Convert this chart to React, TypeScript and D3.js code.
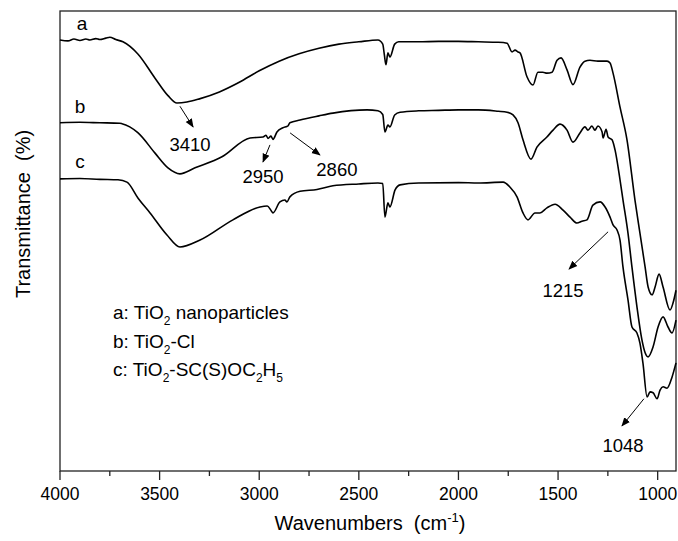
import React, { useEffect, useRef } from 'react';
import * as d3 from 'd3';

// [wavenumber (cm-1), transmittance (a.u.)]
const curveA: [number, number][] = [
  [4000, 93.7], [3960, 93.5], [3930, 93.9], [3900, 93.6], [3870, 93.9], [3850, 93.7], [3820, 94.0], [3800, 93.8],
  [3770, 94.1], [3750, 94.3], [3720, 93.8], [3684, 93.3], [3608, 90.6], [3523, 85.4], [3458, 81.6], [3413, 80.0],
  [3363, 80.2], [3300, 80.9], [3200, 82.4], [3100, 84.5], [3000, 87.0], [2900, 89.1], [2800, 90.7], [2700, 91.9],
  [2600, 92.8], [2500, 93.3], [2404, 93.7], [2380, 92.8], [2372, 90.5], [2364, 88.3], [2354, 90.9],
  [2344, 90.0], [2320, 92.8], [2300, 93.3], [2200, 93.3], [2100, 93.4], [2000, 93.4], [1900, 93.3], [1800, 93.2],
  [1756, 93.0], [1731, 91.1], [1716, 91.5], [1701, 91.1], [1691, 90.9], [1656, 85.7], [1626, 83.9], [1601, 86.7],
  [1576, 86.7], [1556, 86.5], [1530, 86.7], [1505, 89.3], [1485, 89.8], [1455, 87.2], [1425, 84.0], [1390, 87.8],
  [1365, 89.1], [1340, 89.3], [1300, 89.1], [1254, 89.1], [1239, 88.7], [1224, 86.5], [1189, 79.1], [1154, 72.0],
  [1114, 58.9], [1089, 51.7], [1063, 44.3], [1048, 40.0], [1028, 38.3], [1013, 40.0], [993, 42.8], [973, 40.0],
  [938, 35.0], [923, 36.5], [908, 39.3],
];

const curveB: [number, number][] = [
  [4000, 75.7], [3900, 75.8], [3800, 75.7], [3700, 75.6], [3689, 75.5], [3650, 74.8], [3608, 73.5], [3523, 69.1],
  [3458, 65.9], [3398, 64.6], [3322, 65.9], [3187, 68.3], [3046, 72.4], [2981, 72.6], [2966, 73.0], [2956, 72.3],
  [2941, 72.8], [2931, 72.1], [2911, 73.7], [2881, 74.6], [2861, 74.9], [2856, 75.0], [2846, 75.7], [2795, 76.3],
  [2700, 77.2], [2630, 77.8], [2459, 78.5], [2404, 78.3], [2380, 77.5], [2369, 73.7], [2354, 75.2], [2344, 74.8],
  [2320, 77.4], [2293, 78.0], [2200, 78.3], [2100, 78.4], [2000, 78.5], [1900, 78.5], [1800, 78.2], [1756, 78.0],
  [1726, 77.4], [1701, 75.7], [1676, 72.0], [1636, 67.8], [1606, 70.4], [1556, 72.6], [1525, 74.1], [1490, 75.4],
  [1455, 74.1], [1425, 71.5], [1390, 73.5], [1365, 74.8], [1350, 74.1], [1330, 75.0], [1315, 74.1], [1300, 75.0],
  [1279, 73.7], [1274, 72.4], [1259, 74.3], [1249, 72.6], [1229, 72.0], [1214, 69.8], [1189, 63.3], [1174, 58.9],
  [1149, 51.7], [1129, 44.3], [1104, 35.7], [1079, 28.5], [1063, 25.7], [1048, 24.8], [1023, 27.0], [998, 31.3],
  [973, 33.5], [948, 31.3], [928, 30.0], [908, 32.8],
];

const curveC: [number, number][] = [
  [4000, 63.5], [3900, 63.6], [3800, 63.4], [3709, 63.3], [3664, 62.8], [3608, 59.3], [3548, 56.1], [3463, 51.3],
  [3398, 48.7], [3297, 50.2], [3132, 54.6], [2996, 57.4], [2960, 57.6], [2940, 56.6], [2931, 56.1], [2896, 58.5],
  [2871, 58.9], [2861, 58.5], [2846, 59.6], [2795, 60.8], [2710, 61.2], [2630, 62.0], [2500, 62.4], [2404, 62.6],
  [2380, 62.5], [2369, 55.2], [2354, 58.3], [2344, 57.4], [2318, 61.1], [2293, 62.2], [2200, 62.6], [2000, 62.7],
  [1900, 62.6], [1776, 62.8], [1741, 61.7], [1706, 59.6], [1676, 56.1], [1651, 54.6], [1616, 56.1], [1591, 56.1],
  [1556, 57.2], [1515, 58.0], [1475, 56.7], [1440, 55.2], [1405, 53.9], [1380, 54.3], [1355, 54.6], [1325, 57.8],
  [1289, 58.5], [1264, 57.4], [1239, 55.2], [1224, 53.5], [1204, 52.4], [1189, 50.2], [1174, 44.3], [1149, 37.2],
  [1129, 31.3], [1104, 30.0], [1089, 27.8], [1074, 23.5], [1053, 16.1], [1038, 17.2], [1023, 17.0], [1003, 15.7],
  [988, 17.6], [973, 18.3], [953, 18.0], [928, 20.4], [908, 23.5],
];

const xTicks = [4000, 3500, 3000, 2500, 2000, 1500, 1000];
const xMinorTicks = [3750, 3250, 2750, 2250, 1750, 1250];

// curve letters: [text, wavenumber, value]
const curveLabels: [string, number, number][] = [
  ['a', 3890, 95.9],
  ['b', 3900, 77.8],
  ['c', 3900, 65.9],
];

// peak marks: label, label position, arrow from, arrow to
const peakMarks: { label: string; at: [number, number]; from: [number, number]; to: [number, number] }[] = [
  { label: '3410', at: [3347, 69.6], from: [3398, 79.3], to: [3332, 74.8] },
  { label: '2950', at: [2981, 62.6], from: [2946, 70.9], to: [2981, 67.2] },
  { label: '2860', at: [2610, 64.1], from: [2845, 73.5], to: [2695, 68.7] },
  { label: '1215', at: [1475, 37.8], from: [1249, 52.0], to: [1445, 43.9] },
  { label: '1048', at: [1174, 4.1], from: [1069, 15.7], to: [1179, 9.8] },
];

const legendRows = [
  { prefix: 'a: TiO', parts: [['2', 'sub'], [' nanoparticles', '']] },
  { prefix: 'b: TiO', parts: [['2', 'sub'], ['-Cl', '']] },
  { prefix: 'c: TiO', parts: [['2', 'sub'], ['-SC(S)OC', ''], ['2', 'sub'], ['H', ''], ['5', 'sub']] },
];

const W = 678;
const H = 541;
const margin = { left: 60, right: 2, top: 11, bottom: 70 };
const FONT = '"Liberation Sans", Arial, sans-serif';

export default function App() {
  const ref = useRef<SVGSVGElement>(null);

  useEffect(() => {
    const svg = d3.select(ref.current);
    svg.selectAll('*').remove();

    const x0 = margin.left;
    const x1 = W - margin.right;
    const y0 = H - margin.bottom;
    const y1 = margin.top;

    const x = d3.scaleLinear().domain([4000, 908]).range([x0, x1]);
    const y = d3.scaleLinear().domain([0, 100]).range([y0, y1]);

    svg.append('defs').append('marker')
      .attr('id', 'arr')
      .attr('viewBox', '0 0 10 10')
      .attr('refX', 9).attr('refY', 5)
      .attr('markerWidth', 9).attr('markerHeight', 9)
      .attr('markerUnits', 'userSpaceOnUse')
      .attr('orient', 'auto')
      .append('path').attr('d', 'M0,1 L10,5 L0,9 Z').attr('fill', '#000');

    // frame
    svg.append('rect')
      .attr('x', x0).attr('y', y1)
      .attr('width', x1 - x0).attr('height', y0 - y1)
      .attr('fill', 'none').attr('stroke', '#222').attr('stroke-width', 1.3);

    // ticks
    const g = svg.append('g');
    g.selectAll('.maj').data(xTicks).join('line')
      .attr('x1', d => x(d)).attr('x2', d => x(d))
      .attr('y1', y0).attr('y2', y0 + 9)
      .attr('stroke', '#222').attr('stroke-width', 1.3);
    g.selectAll('.min').data(xMinorTicks).join('line')
      .attr('x1', d => x(d)).attr('x2', d => x(d))
      .attr('y1', y0).attr('y2', y0 + 5)
      .attr('stroke', '#222').attr('stroke-width', 1.3);
    g.selectAll('text').data(xTicks).join('text')
      .attr('x', d => x(d)).attr('y', y0 + 29)
      .attr('text-anchor', 'middle')
      .attr('font-family', FONT).attr('font-size', 17.5)
      .text(d => d);

    // axis titles
    const xt = svg.append('text')
      .attr('x', 370).attr('y', 530)
      .attr('text-anchor', 'middle')
      .attr('font-family', FONT).attr('font-size', 20)
      .attr('xml:space', 'preserve');
    xt.append('tspan').text('Wavenumbers  (cm');
    xt.append('tspan').attr('font-size', 13).attr('dy', -8).text('-1');
    xt.append('tspan').attr('dy', 8).text(')');

    svg.append('text')
      .attr('transform', `translate(30,${(y0 + y1) / 2 - 27}) rotate(-90)`)
      .attr('text-anchor', 'middle')
      .attr('font-family', FONT).attr('font-size', 20)
      .attr('xml:space', 'preserve')
      .text('Transmittance  (%)');

    // spectra
    const line = d3.line<[number, number]>()
      .x(d => x(d[0])).y(d => y(d[1]))
      .curve(d3.curveMonotoneX);
    [curveA, curveB, curveC].forEach(c => {
      svg.append('path')
        .attr('d', line(c))
        .attr('fill', 'none').attr('stroke', '#000')
        .attr('stroke-width', 1.6).attr('stroke-linejoin', 'round');
    });

    svg.selectAll('.clab').data(curveLabels).join('text')
      .attr('x', d => x(d[1])).attr('y', d => y(d[2]))
      .attr('text-anchor', 'middle')
      .attr('font-family', FONT).attr('font-size', 19)
      .text(d => d[0]);

    // peak annotations
    peakMarks.forEach(p => {
      svg.append('line')
        .attr('x1', x(p.from[0])).attr('y1', y(p.from[1]))
        .attr('x2', x(p.to[0])).attr('y2', y(p.to[1]))
        .attr('stroke', '#000').attr('stroke-width', 1)
        .attr('marker-end', 'url(#arr)');
      svg.append('text')
        .attr('x', x(p.at[0])).attr('y', y(p.at[1]))
        .attr('text-anchor', 'middle')
        .attr('font-family', FONT).attr('font-size', 18.5)
        .text(p.label);
    });

    // legend
    legendRows.forEach((r, i) => {
      const t = svg.append('text')
        .attr('x', 113).attr('y', 319 + i * 28.5)
        .attr('font-family', FONT).attr('font-size', 19)
        .attr('xml:space', 'preserve');
      t.append('tspan').text(r.prefix);
      let low = false;
      r.parts.forEach(([s, kind]) => {
        if (kind === 'sub') {
          t.append('tspan').attr('font-size', 12).attr('dy', low ? 0 : 6).text(s);
          low = true;
        } else {
          t.append('tspan').attr('dy', low ? -6 : 0).text(s);
          low = false;
        }
      });
    });
  }, []);

  return (
    <svg
      ref={ref}
      width={W}
      height={H}
      style={{ position: 'absolute', left: 0, top: 0, background: '#fff' }}
    />
  );
}
